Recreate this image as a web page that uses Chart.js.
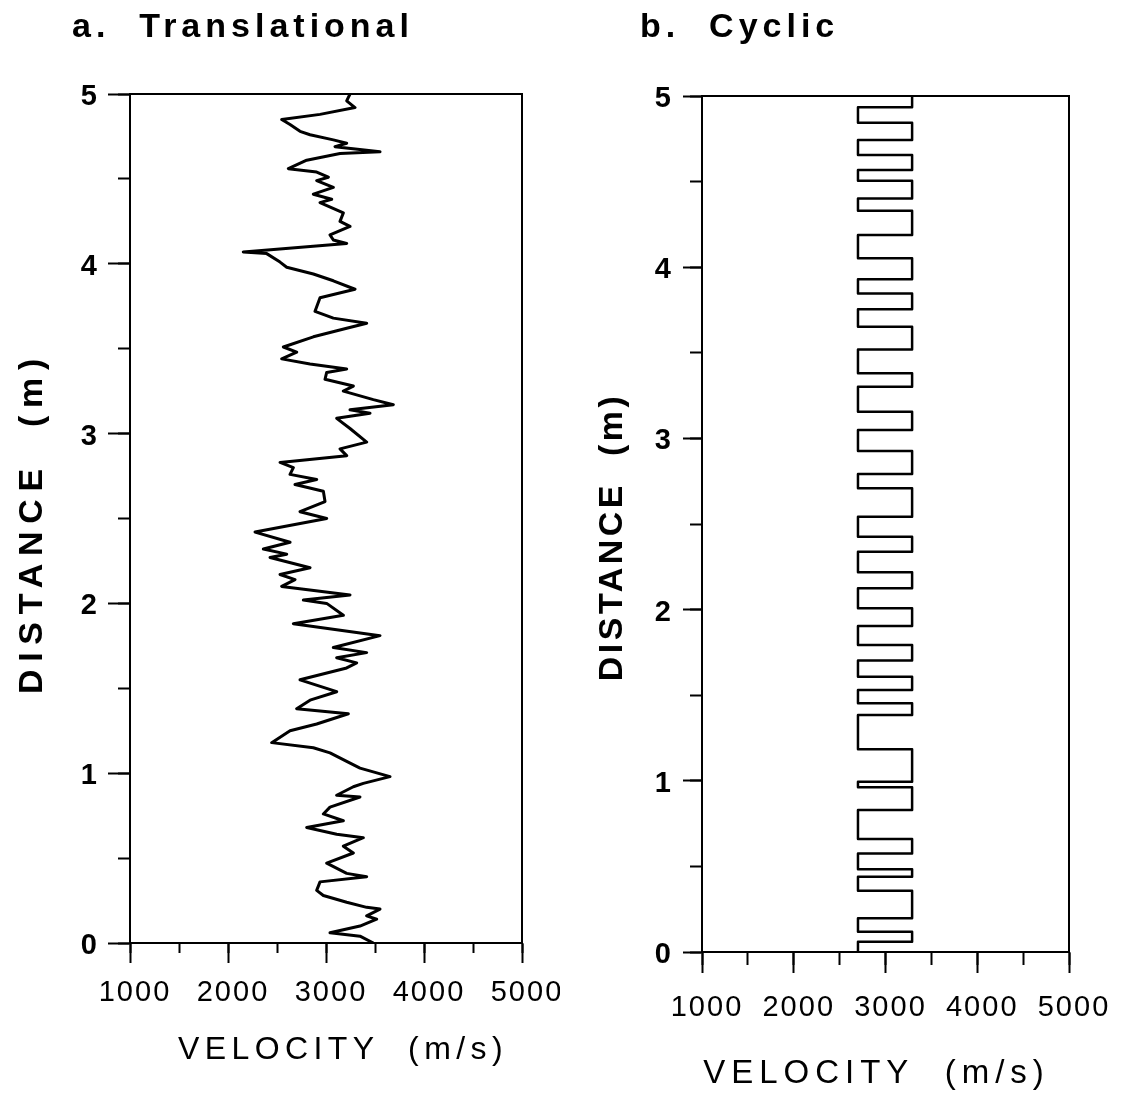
<!DOCTYPE html>
<html>
<head>
<meta charset="utf-8">
<title>Velocity profiles</title>
<script src="https://cdn.jsdelivr.net/npm/chart.js@4.4.1/dist/chart.umd.min.js"></script>
<style>
  body { margin: 0; background: #fff; }
  #wrap { position: relative; width: 1126px; height: 1096px; overflow: hidden; }
  canvas { position: absolute; top: 0; }
  .ttl { position: absolute; top: 6px; font: bold 34px 'Liberation Sans', Arial, sans-serif; letter-spacing: 5px; white-space: pre; color: #000; }
</style>
</head>
<body>
<div id="wrap">
  <canvas id="transChart" width="560" height="1096" style="left:0"></canvas>
  <canvas id="cyclicChart" width="566" height="1096" style="left:560px"></canvas>
  <div class="ttl" style="left:72px">a.  Translational</div>
  <div class="ttl" style="left:640px">b.  Cyclic</div>
</div>
<script>
const transDistance = [
  5.00, 4.96, 4.92, 4.88, 4.85, 4.82, 4.78, 4.76, 4.73, 4.71, 4.69, 4.66, 4.65, 4.61,
  4.56, 4.54, 4.51, 4.49, 4.45, 4.41, 4.38, 4.36, 4.30, 4.25, 4.22, 4.17, 4.14, 4.12,
  4.07, 4.06, 4.01, 3.98, 3.94, 3.90, 3.85, 3.80, 3.72, 3.68, 3.65, 3.62, 3.57, 3.51,
  3.48, 3.44, 3.41, 3.38, 3.36, 3.32, 3.28, 3.25, 3.20, 3.17, 3.14, 3.12, 3.09, 3.03,
  2.95, 2.91, 2.87, 2.83, 2.80, 2.76, 2.73, 2.70, 2.66, 2.60, 2.54, 2.50, 2.42, 2.36,
  2.32, 2.29, 2.27, 2.21, 2.17, 2.14, 2.10, 2.05, 2.02, 2.00, 1.93, 1.88, 1.81, 1.74,
  1.71, 1.68, 1.65, 1.62, 1.55, 1.48, 1.43, 1.38, 1.35, 1.29, 1.25, 1.18, 1.15, 1.12,
  1.07, 1.03, 0.98, 0.94, 0.92, 0.87, 0.86, 0.80, 0.76, 0.72, 0.68, 0.64, 0.62, 0.57,
  0.53, 0.47, 0.41, 0.39, 0.36, 0.31, 0.28, 0.24, 0.21, 0.20, 0.16, 0.14, 0.10, 0.06,
  0.04, 0.00
];
const transVelocity = [
  3245, 3211, 3296, 2939, 2548, 2633, 2735, 2837, 3075, 3211, 3092, 3551, 3143, 2803,
  2616, 2905, 3024, 2905, 3075, 2871, 3058, 2939, 3177, 3143, 3245, 3041, 3075, 3211,
  2156, 2395, 2531, 2599, 2871, 3075, 3296, 2939, 2888, 3075, 3415, 3211, 2871, 2565,
  2701, 2548, 2837, 3211, 3007, 2990, 3279, 3177, 3483, 3687, 3245, 3449, 3109, 3245,
  3415, 3143, 3211, 2531, 2667, 2633, 2905, 2684, 2973, 2990, 2735, 3007, 2276, 2633,
  2361, 2599, 2429, 2837, 2531, 2684, 2548, 3245, 2769, 3007, 3177, 2667, 3551, 3075,
  3415, 3109, 3313, 3211, 2735, 3109, 2837, 2701, 3228, 2905, 2633, 2446, 2871, 3041,
  3211, 3347, 3653, 3381, 3279, 3109, 3347, 3041, 2973, 3177, 2803, 3109, 3381, 3177,
  3279, 3007, 3211, 3415, 2939, 2905, 2973, 3211, 3415, 3551, 3415, 3517, 3347, 3041,
  3347, 3483
];

// cyclic profile: layer boundaries (m) and the velocity of each layer below a boundary
const cyclicBounds = [
  5.000, 4.934, 4.844, 4.743, 4.655, 4.568, 4.505, 4.402, 4.330, 4.188, 4.052, 3.929,
  3.847, 3.754, 3.652, 3.520, 3.380, 3.302, 3.156, 3.049, 2.926, 2.792, 2.709, 2.543,
  2.426, 2.338, 2.218, 2.124, 2.008, 1.904, 1.793, 1.702, 1.608, 1.530, 1.453, 1.384,
  1.184, 0.995, 0.962, 0.829, 0.660, 0.576, 0.483, 0.440, 0.358, 0.197, 0.119, 0.060,
  0.000
];
const cyclicVelocity = [
  3290, 2700, 3290, 2700, 3290, 2700, 3290, 2700, 3290, 2700, 3290, 2700,
  3290, 2700, 3290, 2700, 3290, 2700, 3290, 2700, 3290, 2700, 3290, 2700,
  3290, 2700, 3290, 2700, 3290, 2700, 3290, 2700, 3290, 2700, 3290, 2700,
  3290, 2700, 3290, 2700, 3290, 2700, 3290, 2700, 3290, 2700, 3290, 2700
];

const velocityTicks = [1000, 2000, 3000, 4000, 5000];
const distanceTicks = [0, 1, 2, 3, 4, 5];

const FONT = "'Liberation Sans', Arial, Helvetica, sans-serif";

// point tables for the library
const transPoints = transDistance.map((d, i) => ({ x: transVelocity[i], y: d }));
const cyclicPoints = [];
cyclicVelocity.forEach((v, i) => {
  cyclicPoints.push({ x: v, y: cyclicBounds[i] });
  cyclicPoints.push({ x: v, y: cyclicBounds[i + 1] });
});

// the old figure uses widely tracked lettering, titles a bit off-centre
const spacing = {
  id: 'spacing',
  beforeDraw(chart, args, opts) {
    chart.ctx.letterSpacing = opts.ticks;
    Object.values(chart.scales).forEach(scale => {
      if (scale._spaced) return;
      const drawTitle = scale.drawTitle;
      const t = opts[scale.axis];
      scale.drawTitle = function () {
        const ctx = this.ctx;
        const old = ctx.letterSpacing;
        ctx.save();
        ctx.translate(t.dx, t.dy);
        ctx.letterSpacing = t.ls;
        drawTitle.call(this);
        ctx.restore();
        ctx.letterSpacing = old;
      };
      scale._spaced = true;
    });
  }
};

// top and right sides of the box
const frame = {
  id: 'frame',
  afterDatasetsDraw(chart) {
    const { ctx, chartArea: a } = chart;
    ctx.save();
    ctx.strokeStyle = '#000';
    ctx.lineWidth = 2;
    ctx.beginPath();
    ctx.moveTo(a.left, a.top);
    ctx.lineTo(a.right, a.top);
    ctx.lineTo(a.right, a.bottom);
    ctx.stroke();
    ctx.restore();
  }
};

function panel(id, points, L) {
  return new Chart(document.getElementById(id), {
    type: 'scatter',
    data: {
      datasets: [{
        data: points,
        showLine: true,
        borderColor: '#000',
        borderWidth: L.lineWidth,
        borderJoinStyle: 'round',
        pointRadius: 0
      }]
    },
    options: {
      responsive: false,
      animation: false,
      events: [],
      layout: { padding: { left: 0, right: L.padRight, top: L.padTop, bottom: 0 } },
      plugins: {
        legend: { display: false },
        tooltip: { enabled: false },
        spacing: { ticks: '2px', x: L.xTitle, y: L.yTitle }
      },
      scales: {
        x: {
          type: 'linear', position: 'bottom', min: 1000, max: 5000,
          afterBuildTicks: s => { s.ticks = velocityTicks.map(v => ({ value: v })); },
          afterFit: s => { s.height = L.xHeight; s.paddingLeft = 0; s.paddingRight = 0; },
          ticks: {
            autoSkip: false, maxRotation: 0, padding: L.xTickPad, labelOffset: 5, color: '#000',
            font: { family: FONT, size: 29 },
            callback: v => String(v)
          },
          grid: { drawOnChartArea: false, tickLength: L.xTick, tickWidth: 2, tickColor: '#000' },
          border: { color: '#000', width: 2 },
          title: {
            display: true, text: 'VELOCITY  (m/s)', color: '#000',
            font: { family: FONT, size: L.xTitle.size },
            padding: { top: 0, bottom: L.xTitle.pad }
          }
        },
        xMinor: {
          type: 'linear', position: { y: 0 }, min: 1000, max: 5000,
          ticks: { display: false, stepSize: 500 },
          grid: { drawOnChartArea: false, tickLength: L.xMinorTick, tickWidth: 2, tickColor: '#000' },
          border: { display: false }
        },
        y: {
          type: 'linear', position: 'left', min: 0, max: 5,
          afterBuildTicks: s => { s.ticks = distanceTicks.map(v => ({ value: v })); },
          afterFit: s => { s.width = L.yWidth; s.paddingTop = 0; s.paddingBottom = 0; },
          ticks: {
            autoSkip: false, padding: L.yTickPad, labelOffset: 3, color: '#000',
            font: { family: FONT, size: 29, weight: 'bold' },
            callback: v => String(v)
          },
          grid: { drawOnChartArea: false, tickLength: L.yTick, tickWidth: 2, tickColor: '#000' },
          border: { color: '#000', width: 2 },
          title: {
            display: true, text: 'DISTANCE  (m)', color: '#000',
            font: { family: FONT, size: L.yTitle.size, weight: 'bold' },
            padding: { top: L.yTitle.pad, bottom: 0 }
          }
        },
        yMinor: {
          type: 'linear', position: { x: 1000 }, min: 0, max: 5,
          ticks: { display: false, stepSize: 0.5 },
          grid: { drawOnChartArea: false, tickLength: L.yMinorTick, tickWidth: 2, tickColor: '#000' },
          border: { display: false }
        }
      }
    },
    plugins: [spacing, frame]
  });
}

panel('transChart', transPoints, {
  lineWidth: 3, padTop: 94, padRight: 38, xHeight: 153, yWidth: 130,
  xTick: 20, xMinorTick: 10, yTick: 22, yMinorTick: 12,
  xTickPad: 13, yTickPad: 9,
  xTitle: { size: 32, pad: 27, ls: '5.4px', dx: 17, dy: 0 },
  yTitle: { size: 34, pad: 12, ls: '7.7px', dx: 0, dy: 4 }
});

panel('cyclicChart', cyclicPoints, {
  lineWidth: 2.5, padTop: 96, padRight: 57, xHeight: 144, yWidth: 142,
  xTick: 21, xMinorTick: 13, yTick: 19, yMinorTick: 12,
  xTickPad: 18, yTickPad: 10,
  xTitle: { size: 33, pad: 2, ls: '6px', dx: -9, dy: 0 },
  yTitle: { size: 34, pad: 32, ls: '3.5px', dx: 0, dy: 13 }
});
</script>
</body>
</html>
